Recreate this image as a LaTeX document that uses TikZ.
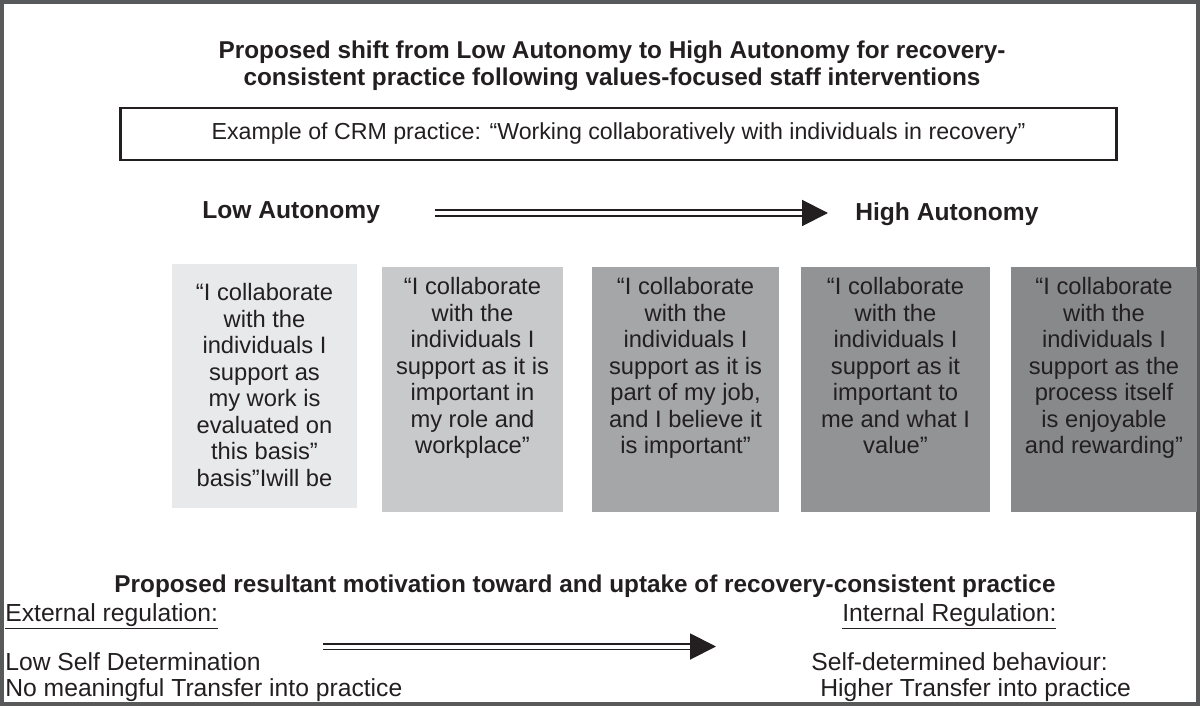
\documentclass[tikz,border=0pt]{standalone}
\usepackage{fontspec}
\setmainfont{Liberation Sans}
\usetikzlibrary{arrows.meta}
\definecolor{framegray}{HTML}{58595B}
\definecolor{ink}{HTML}{231F20}
\definecolor{cardA}{HTML}{E8E9EA}
\definecolor{cardB}{HTML}{C8C9CB}
\definecolor{cardC}{HTML}{A5A6A8}
\definecolor{cardD}{HTML}{929395}
\definecolor{cardE}{HTML}{88898B}
\begin{document}
\begin{tikzpicture}[x=0.02cm,y=-0.02cm]
    \tikzstyle{head} = [font=\bfseries\fontsize{13.85}{15.3}\selectfont,text=ink,align=center,inner sep=0pt]
    \tikzstyle{side} = [font=\bfseries\fontsize{14}{16}\selectfont,text=ink,inner sep=0pt,anchor=base west]
    \tikzstyle{exbox} = [draw=ink,line width=1.7pt,minimum width=19.94cm,minimum height=1.04cm,
                         font=\fontsize{13.2}{15}\selectfont,text=ink]
    \tikzstyle{card} = [inner sep=0pt,minimum height=4.9cm]
    \tikzstyle{cardtext} = [font=\fontsize{13.5}{15.1}\selectfont,text=ink,align=center,inner sep=0pt,anchor=north]
    \tikzstyle{plain} = [font=\fontsize{14.05}{15.9}\selectfont,text=ink,inner sep=0pt,anchor=base west]
    \tikzstyle{dblarrow} = [draw=ink,line width=1.13pt,double=white,double distance=2.27pt,
                            -{Triangle[length=14.7pt,width=14.7pt]}]
    \useasboundingbox (0,0) rectangle (1200,706);
    % outer frame
    \draw[framegray,line width=2pt] (1.8,1.8) rectangle (1198.2,704.2);
    \node[head] (title) at (612,66)
        {Proposed shift from Low Autonomy to High Autonomy for recovery-\\
         consistent practice following values-focused staff interventions};
    \node[exbox] (crm) at (618.5,134)
        {Example of CRM practice: “Working collaboratively with individuals in recovery”};
    \node[side] (low) at (202,218) {Low Autonomy};
    \node[side] (high) at (855,220) {High Autonomy};
    \coordinate (la1) at (435,213);
    \coordinate (la2) at (828,213);
    \draw[dblarrow] (la1) -- (la2);
    % the five statements
    \node[card,fill=cardA,minimum width=3.7cm] (c1) at (264.5,386) {};
    \node[card,fill=cardB,minimum width=3.62cm] (c2) at (472.5,389.5) {};
    \node[card,fill=cardC,minimum width=3.74cm] (c3) at (685.5,389.5) {};
    \node[card,fill=cardD,minimum width=3.78cm] (c4) at (895.5,389.5) {};
    \node[card,fill=cardE,minimum width=3.72cm] (c5) at (1104,389.5) {};
    \node[cardtext] (t1) at (264.5,283) {“I collaborate\\with the\\individuals I\\support as\\my work is\\evaluated on\\this basis”\\basis”Iwill be};
    \node[cardtext] (t2) at (472.5,277) {“I collaborate\\with the\\individuals I\\support as it is\\important in\\my role and\\workplace”};
    \node[cardtext] (t3) at (685.5,277) {“I collaborate\\with the\\individuals I\\support as it is\\part of my job,\\and I believe it\\is important”};
    \node[cardtext] (t4) at (895.5,277) {“I collaborate\\with the\\individuals I\\support as it\\important to\\me and what I\\value”};
    \node[cardtext] (t5) at (1104,277) {“I collaborate\\with the\\individuals I\\support as the\\process itself\\is enjoyable\\and rewarding”};
    % resultant motivation
    \node[head,anchor=base] (result) at (585,592)
        {Proposed resultant motivation toward and uptake of recovery-consistent practice};
    \node[plain] (ext) at (5,621) {\underline{External regulation:}};
    \node[plain] (int) at (842,621) {\underline{Internal Regulation:}};
    \coordinate (ra1) at (323,646.5);
    \coordinate (ra2) at (716,646.5);
    \draw[dblarrow] (ra1) -- (ra2);
    \node[plain] (lowsd) at (5,670) {Low Self Determination};
    \node[plain] (nomt) at (5,696) {No meaningful Transfer into practice};
    \node[plain] (selfd) at (811,670) {Self-determined behaviour:};
    \node[plain] (hight) at (820,696) {Higher Transfer into practice};
\end{tikzpicture}
\end{document}
